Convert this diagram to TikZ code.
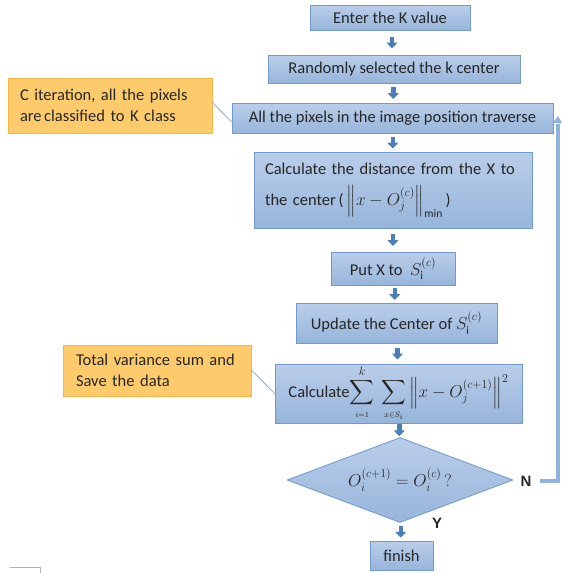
\documentclass[tikz,border=0pt]{standalone}
\usepackage{amsmath}
\usepackage{fontspec}
\setmainfont{Carlito}
\newfontfamily\labfont{Liberation Sans}
\usetikzlibrary{shapes.geometric,arrows.meta,calc}
\definecolor{boxtop}{HTML}{BACEE9}
\definecolor{boxbot}{HTML}{97B5DB}
\definecolor{boxline}{HTML}{7199CB}
\definecolor{notefill}{HTML}{FDCB6C}
\definecolor{noteline}{HTML}{F3B648}
\definecolor{arrowblue}{HTML}{4A7EBB}
\definecolor{loopblue}{HTML}{8FB3E0}
\definecolor{txt}{HTML}{262626}
\definecolor{linkgray}{HTML}{8FA9C6}
\tikzset{
  flowbox/.style={draw=boxline, line width=0.8pt, top color=boxtop, bottom color=boxbot,
    inner sep=0pt, text=txt, font=\fontsize{16.5}{21}\selectfont},
  notebox/.style={draw=noteline, line width=0.8pt, fill=notefill, inner sep=0pt,
    text=txt, font=\fontsize{16.5}{21}\selectfont},
  decision/.style={diamond, aspect=2.66, draw=boxline, line width=0.8pt, top color=boxtop, bottom color=boxbot,
    inner sep=0pt, text=txt, font=\fontsize{16.5}{21}\selectfont},
  blockarrow/.style={draw=arrowblue, line width=4.5pt, -{Triangle[width=11pt,length=6pt]}},
  looparrow/.style={draw=loopblue, line width=4pt},
  notelink/.style={draw=linkgray, line width=0.8pt},
  yn/.style={font=\labfont\bfseries\fontsize{15}{15}\selectfont, text=black!85}
}
\begin{document}
\begin{tikzpicture}[x=1pt,y=-1pt]
\useasboundingbox (0,0) rectangle (562,573);
\fill[white] (0,0) rectangle (562,573);

\node[flowbox, minimum width=160pt, minimum height=25pt] (b1) at (390,17.5) {Enter the K value};
\node[flowbox, minimum width=252pt, minimum height=28pt] (b2) at (394,69) {Randomly selected the k center};
\node[flowbox, minimum width=321pt, minimum height=30pt] (b3) at (392.5,118) {All the pixels in the image position traverse};
\node[flowbox, minimum width=278pt, minimum height=76pt, text width=256pt, align=left, font=\fontsize{16.5}{31}\selectfont] (b4) at (393,190)
  {Calculate the distance from the X to\\the center\,(\,$\left\| x-O_j^{(c)}\right\|_{\min}$\,)};
\node[flowbox, minimum width=124pt, minimum height=33pt] (b5) at (393,268.5) {Put X to\ \ $S_{\mathrm{i}}^{(c)}$};
\node[flowbox, minimum width=201pt, minimum height=40pt] (b6) at (396.5,323) {Update the Center of $S_{\mathrm{i}}^{(c)}$};
\node[flowbox, minimum width=247pt, minimum height=59pt] (b7) at (398.5,393.5)
  {Calculate$\displaystyle\sum_{\scriptscriptstyle i=1}^{k}\ \sum_{\scriptscriptstyle x\in S_i}\left\| x-O_j^{(c+1)}\right\|^2$};
\node[decision, minimum width=226pt, minimum height=85pt] (dia) at (400,480) {$O_i^{(c+1)}=O_i^{(c)}\,?$};
\node[flowbox, minimum width=63pt, minimum height=29pt] (fin) at (401.5,555.5) {finish};

\node[notebox, minimum width=204pt, minimum height=55pt, text width=180pt, align=left] (n1) at (110,105.5)
  {\makebox[180pt][s]{C iteration, all the pixels}\\are\hspace{2.5pt}classified to K class};
\node[notebox, minimum width=188pt, minimum height=51pt, text width=162pt, align=left] (n2) at (157,370.5)
  {Total variance sum and\\Save the data};

% block arrows
\foreach \a/\b in {b1/b2,b2/b3,b3/b4,b4/b5,b5/b6,b6/b7,b7/dia,dia/fin}{
  \coordinate (m) at ($(\a.south)!0.5!(\b.north)$);
  \draw[blockarrow] ([yshift=6pt]m) -- ([yshift=-6pt]m);
}

% note links
\draw[notelink] ([yshift=3pt]n1.east) -- ([yshift=-4pt]b3.west);
\draw[notelink] (n2.north east |- 0,370) -- (b7.west);

% labels
\node[yn] (N) at (526,481) {N};
\node[yn] (Y) at (437,523) {Y};

% feedback loop
\coordinate (ls) at (540,481);
\coordinate (lc) at (558,481);
\coordinate (lt) at (558,116);
\draw[looparrow] (ls) -- (lc) -- ([yshift=-8pt]lt);
\fill[loopblue] ([xshift=-5pt,yshift=-7pt]lt) -- (lt) -- ([xshift=4pt,yshift=-7pt]lt) -- cycle;

% small artifact
\draw[gray!60, line width=0.6pt] (10,567.5) -- (40,567.5) -- (40,573);
\end{tikzpicture}
\end{document}
